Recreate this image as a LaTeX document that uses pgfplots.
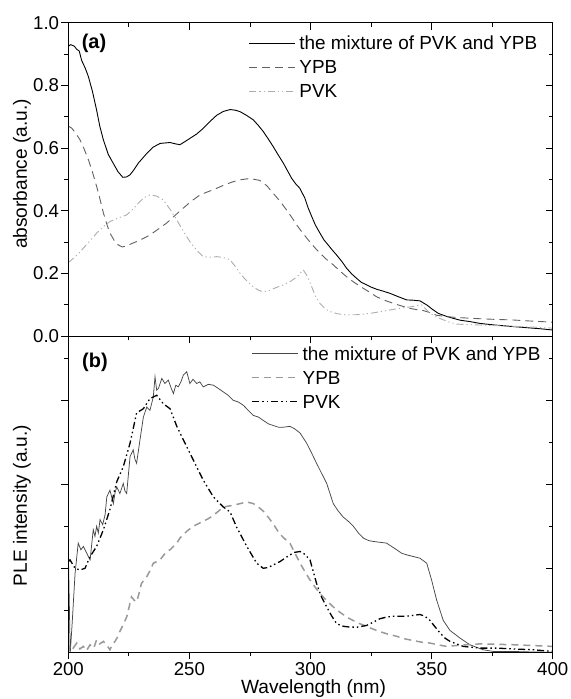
\documentclass[border=0pt]{standalone}
\usepackage{fontspec}
\setmainfont{Liberation Sans}
\usepackage{pgfplots}
\pgfplotsset{compat=1.18}
\definecolor{ga}{gray}{0.38}
\definecolor{gb}{gray}{0.68}
\definecolor{gc}{gray}{0.28}
\definecolor{gd}{gray}{0.6}
\begin{document}
\begin{tikzpicture}
\pgfplotsset{
  panel/.style={scale only axis, width=484.4bp, xmin=200, xmax=400,
    xtick={200,250,...,400}, minor x tick num=1,
    axis line style={line width=1.2bp},
    tick style={black, line width=0.9bp},
    major tick length=7bp, minor tick length=4bp,
    /pgf/number format/assume math mode=true,
    tick label style={font=\fontsize{18.7}{20}\selectfont},
    label style={font=\fontsize{19.2}{21}\selectfont},
    xticklabel style={inner sep=2.5bp},
    yticklabel style={inner sep=2bp},
  },
  pa/.style={panel, at={(68.3bp,362.7bp)}, anchor=south west, height=313.6bp,
    ymin=0, ymax=1, ytick={0,0.2,...,1.0}, minor y tick num=1},
  pb/.style={panel, at={(68.3bp,46.7bp)}, anchor=south west, height=316bp,
    ymin=0, ymax=3.762, ytick={1,2,3}, minor ytick={0.5,1.5,2.5,3.5}},
  over/.style={tick align=inside, xtick pos=right, ytick pos=right,
    xticklabels={}, yticklabels={}},
  leg/.style={legend cell align=left,
    legend style={draw=none, fill=none, inner sep=0pt, outer sep=0pt,
      row sep=6.2bp, column sep=3.5bp, anchor=north west,
      font=\fontsize{19}{21}\selectfont,
      nodes={inner sep=0pt, text height=15.5bp, text depth=2.3bp}},
    legend image code/.code={\draw[##1] (0bp,0bp) -- (46bp,0bp);}},
}
% ---------------- panel (a) ----------------
\begin{axis}[pa, tick align=outside, xtick pos=left, ytick pos=left,
  xticklabels={},
  yticklabel style={/pgf/number format/fixed, /pgf/number format/fixed zerofill, /pgf/number format/precision=1},
  ylabel={absorbance (a.u.)},
  ylabel style={at={(axis description cs:-0.0955,0.5175)}, anchor=center, rotate=0},
  leg, legend style={at={(0.373,0.9637)}}]
\addplot[black, line width=0.9bp] table {
200 0.925
201 0.930
202.5 0.925
203.5 0.915
204.5 0.910
205.5 0.880
207 0.855
208.3 0.828
210 0.78
211.7 0.721
213 0.67
214.5 0.626
216.5 0.58
218.6 0.551
220.5 0.525
222.5 0.507
224 0.508
225.5 0.515
227 0.530
229 0.553
232.4 0.583
235 0.603
237.9 0.615
242 0.618
244 0.614
246.1 0.611
248 0.620
250.2 0.631
253 0.645
255.7 0.663
258.5 0.685
261.3 0.705
264 0.717
266.8 0.723
269 0.721
271 0.716
273.5 0.705
276.4 0.690
278.5 0.672
280.5 0.653
282.5 0.630
284.6 0.605
286.7 0.578
288.8 0.552
290.5 0.528
292.2 0.504
294 0.485
295.6 0.472
297.7 0.440
299 0.41
300.5 0.382
302 0.355
303.9 0.329
305.5 0.308
307.3 0.291
309 0.275
310.8 0.259
313 0.238
314.9 0.217
317 0.199
319.0 0.185
321 0.172
323.2 0.164
325 0.157
327.3 0.150
330 0.144
332.8 0.137
336 0.127
339.7 0.116
342.5 0.115
345.2 0.113
348.0 0.100
350.5 0.085
352.8 0.073
356 0.064
359 0.057
362 0.051
365.8 0.047
370 0.041
376 0.036
383.7 0.031
390 0.027
395 0.024
400 0.020
};
\addlegendentry{the mixture of PVK and YPB}
\addplot[ga, line width=0.9bp, dash pattern=on 8bp off 5bp] table {
200 0.670
201.4 0.664
203 0.648
204.8 0.627
206.5 0.598
208.3 0.563
210 0.523
211.7 0.478
213 0.44
214.5 0.393
216 0.355
217.2 0.329
219 0.305
220.5 0.292
222.3 0.285
224 0.288
226 0.295
228.2 0.302
231 0.312
233.7 0.323
237 0.341
240.6 0.361
244 0.385
247.5 0.409
251 0.432
254.4 0.451
258 0.462
261.3 0.472
264.5 0.483
268.1 0.493
271 0.499
273.7 0.502
276.5 0.501
279.1 0.497
282 0.480
284.6 0.456
287.5 0.430
290.1 0.403
292.2 0.380
294.3 0.355
296.7 0.330
299.1 0.307
301.5 0.285
303.9 0.265
306.5 0.246
309.4 0.228
312 0.209
314.9 0.190
318 0.172
321.8 0.153
324.5 0.140
327.3 0.126
330.5 0.115
334.2 0.105
337.5 0.097
341.1 0.089
343.8 0.085
346.6 0.082
349.5 0.075
352.1 0.067
356 0.063
360.3 0.060
365 0.058
370 0.056
376 0.054
383.7 0.052
390 0.049
395 0.047
400 0.045
};
\addlegendentry{YPB}
\addplot[gb, line width=0.9bp, dash pattern=on 7bp off 3bp on 1.2bp off 3bp on 1.2bp off 3bp] table {
200 0.235
202 0.248
204 0.262
206.2 0.281
209 0.305
211.7 0.329
214.5 0.350
217.2 0.366
220.5 0.377
224.1 0.387
227 0.408
229.6 0.430
231.5 0.443
233.7 0.451
236.5 0.447
239.2 0.435
242 0.405
244.8 0.371
247.5 0.335
250.2 0.302
253 0.275
255.7 0.254
258.5 0.252
261.3 0.254
264 0.251
266.8 0.244
269 0.222
270.9 0.201
273 0.182
276.4 0.158
278.5 0.147
280.5 0.142
283 0.146
286.0 0.156
288.5 0.163
291.5 0.174
294.5 0.190
297 0.212
298.8 0.190
300.5 0.158
302 0.128
303.9 0.105
306 0.088
308 0.079
311 0.072
314.9 0.068
319.5 0.069
324.5 0.073
328.5 0.078
332.8 0.084
337.5 0.090
342.4 0.095
345.9 0.100
347.5 0.088
349.3 0.073
353.4 0.057
357 0.046
360.3 0.039
365 0.037
370 0.036
380 0.033
390 0.030
400 0.026
};
\addlegendentry{PVK}
\node[font=\bfseries\fontsize{20}{22}\selectfont, inner sep=0pt] at (axis description cs:0.053,0.935) {(a)};
\end{axis}
\begin{axis}[pa, over]
\end{axis}
% ---------------- panel (b) ----------------
\begin{axis}[pb, tick align=outside, xtick pos=left, ytick pos=left,
  yticklabels={},
  xlabel={Wavelength (nm)},
  xlabel style={at={(axis description cs:0.5,0)}, anchor=north, yshift=-27bp, xshift=3bp, inner sep=0pt},
  ylabel={PLE intensity (a.u.)},
  ylabel style={at={(axis description cs:-0.0955,0.4646)}, anchor=center, rotate=0},
  leg, legend style={at={(0.3786,0.974)}}]
\addplot[gc, line width=0.75bp] table {
200 1.22
200.8 0.0
201.5 0.3
202.8 0.94
204.1 1.30
205.2 1.22
206.2 1.26
207.6 1.18
209.0 1.10
210.3 1.46
211.0 1.38
211.7 1.50
212.4 1.42
213.1 1.58
214.2 1.52
215.2 1.64
215.9 1.85
217.2 1.93
218.6 1.77
219.3 1.90
220.0 1.97
221.3 1.89
222.7 2.01
223.4 1.92
224.1 1.89
225.5 2.33
226.8 2.41
227.5 2.30
228.2 2.25
229.6 2.53
231.0 2.80
232.4 2.92
233.7 2.88
235.1 3.04
235.8 3.28
236.5 3.12
237.2 3.14
238.6 3.26
239.9 3.20
241.3 3.24
242.4 3.15
243.4 3.08
244.4 3.18
245.4 3.16
246.5 3.22
247.5 3.30
248.9 3.34
250.2 3.20
251.5 3.25
253.0 3.20
254.3 3.22
255.7 3.16
257.8 3.19
259.9 3.18
262.0 3.14
264.0 3.10
266.0 3.06
268.1 3.00
270.2 2.98
272.3 2.94
274.3 2.88
276.4 2.82
278.5 2.80
280.5 2.76
282.6 2.72
284.6 2.70
286.7 2.68
288.8 2.68
291.5 2.69
293.5 2.66
295.7 2.61
298.4 2.49
300.5 2.37
302.5 2.25
304.6 2.13
306.7 2.01
309.4 1.77
311.5 1.68
313.5 1.61
315.6 1.56
317.7 1.50
319.8 1.42
321.8 1.36
324.0 1.33
325.9 1.32
328.6 1.31
331.4 1.30
333.5 1.26
335.6 1.22
337.6 1.18
339.7 1.16
342.5 1.14
345.2 1.12
348.0 1.06
350.0 0.86
352.1 0.62
354.8 0.38
357.6 0.26
361.7 0.17
365.8 0.09
371.3 0.03
375.5 0.01
383.7 0.01
390 0.005
400 0.0
};
\addlegendentry{the mixture of PVK and YPB}
\addplot[gd, line width=1.5bp, dash pattern=on 7bp off 5bp] table {
200 0.0
200.3 0.02
200.7 0.09
202 0.05
203.5 0.11
204.8 0.04
206.2 0.07
207.5 0.02
209.0 0.09
210.5 0.05
211.7 0.15
213 0.10
214.5 0.13
216 0.08
217.2 0.03
218.3 0.10
219.3 0.13
220.3 0.18
221.3 0.25
222.7 0.33
224.1 0.42
225.2 0.55
226.1 0.66
227.2 0.62
228.2 0.60
229.2 0.70
230.2 0.82
231.3 0.86
232.4 0.90
233.7 0.97
235.1 1.06
236.5 1.08
237.9 1.10
239.2 1.15
240.6 1.20
242.0 1.22
243.4 1.26
244.8 1.30
246.1 1.36
247.5 1.40
248.9 1.44
250.2 1.47
251.6 1.50
253.6 1.53
255.7 1.56
257.8 1.59
259.9 1.63
262.0 1.68
264.0 1.73
266.0 1.74
268.1 1.75
270.9 1.77
273.7 1.79
276.4 1.77
278.5 1.73
280.5 1.68
282.5 1.61
284.6 1.53
287.0 1.42
289.0 1.36
291.5 1.30
293.6 1.18
295.7 1.06
297.7 0.96
299.8 0.86
301.8 0.78
303.9 0.70
306.5 0.62
309.4 0.54
312.0 0.48
314.9 0.42
317.5 0.38
320.4 0.34
323.8 0.30
327.3 0.26
331.5 0.22
335.6 0.19
339.0 0.16
342.4 0.14
346.0 0.12
349.3 0.11
352.5 0.09
356.2 0.07
360 0.08
364.5 0.09
370.0 0.10
377 0.095
383.7 0.09
392 0.08
400 0.07
};
\addlegendentry{YPB}
\addplot[black, line width=1.3bp, dash pattern=on 7bp off 3bp on 1.5bp off 3bp on 1.5bp off 3bp] table {
200 1.08
200.7 1.10
202.8 1.00
204.8 0.98
206.9 1.00
209.0 1.14
211.7 1.26
214.5 1.46
217.2 1.70
220.0 2.03
222.7 2.21
225.5 2.49
228.2 2.85
231.0 2.90
233.7 3.02
236.5 3.06
239.2 2.96
242.0 2.90
244.8 2.69
247.5 2.53
251.6 2.29
255.7 2.05
259.9 1.85
264.0 1.73
266.8 1.67
269.5 1.49
273.7 1.26
277.8 1.06
280.5 1.00
282.5 1.01
284.6 1.04
287.4 1.08
291.5 1.16
293.5 1.19
295.7 1.20
297.5 1.17
299.8 1.10
302.5 0.82
304.5 0.66
306.7 0.54
308.8 0.43
310.8 0.34
313.5 0.31
316.3 0.30
319.5 0.30
323.2 0.32
326 0.36
328.7 0.40
331.5 0.42
334.2 0.43
337 0.43
339.7 0.43
342.5 0.44
345.2 0.45
347.2 0.43
349.3 0.38
351.5 0.30
353.5 0.23
355.5 0.17
357.6 0.13
360.3 0.10
363.1 0.07
366.5 0.06
370.0 0.05
376.9 0.05
383.7 0.04
392 0.03
400 0.01
};
\addlegendentry{PVK}
\node[font=\bfseries\fontsize{20}{22}\selectfont, inner sep=0pt] at (axis description cs:0.055,0.917) {(b)};
\end{axis}
\begin{axis}[pb, over]
\end{axis}
\pgfresetboundingbox
\path[use as bounding box] (0bp,0bp) rectangle (571bp,699bp);
\end{tikzpicture}
\end{document}
